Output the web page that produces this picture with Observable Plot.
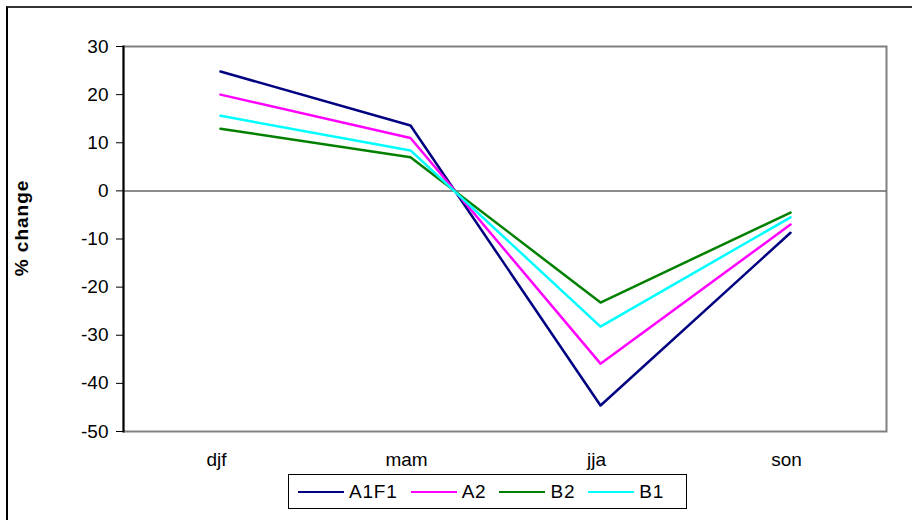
<!DOCTYPE html>
<html>
<head>
<meta charset="utf-8">
<script src="https://cdn.jsdelivr.net/npm/d3@7"></script>
<script src="https://cdn.jsdelivr.net/npm/@observablehq/plot@0.6"></script>
<style>
  html, body { margin: 0; padding: 0; background: #fff; }
  body { width: 912px; height: 520px; position: relative; overflow: hidden; font-family: Arial, "Liberation Sans", sans-serif; }
  #frame { position: absolute; left: 6px; top: 6px; width: 1000px; height: 1000px; border-left: 2px solid #000; border-top: 2px solid #333; }
  #chart { position: absolute; left: 0; top: 0; }
  #chart text { font-size: 19px; }
  #ylabel { position: absolute; left: 22px; top: 228px; transform: translate(-50%, -50%) rotate(-90deg); font-weight: bold; font-size: 19px; letter-spacing: 1px; white-space: nowrap; }
  #legend { position: absolute; left: 288px; top: 474px; width: 399px; height: 35px; border: 1px solid #000; box-sizing: border-box; display: flex; align-items: center; padding-left: 9px; font-size: 19px; letter-spacing: 0.8px; }
  .item { display: flex; align-items: center; margin-right: 13px; }
  .sw { width: 46px; height: 0; border-top: 2.5px solid; margin-right: 5px; }
</style>
</head>
<body>
<div id="frame"></div>
<div id="chart"></div>
<div id="ylabel">% change</div>
<div id="legend"></div>
<script>
const seasons = ["djf", "mam", "jja", "son"];
const seriesNames = ["A1F1", "A2", "B2", "B1"];
const seriesColors = ["#000080", "#FF00FF", "#008000", "#00FFFF"];
const a1f1 = [24.8, 13.6, -44.6, -8.7];
const a2 = [20.0, 11.0, -35.9, -7.0];
const b2 = [12.9, 7.0, -23.2, -4.5];
const b1 = [15.6, 8.4, -28.2, -5.5];
const yTicks = [30, 20, 10, 0, -10, -20, -30, -40, -50];

const seriesValues = [a1f1, a2, b2, b1];
const data = [];
seriesNames.forEach((name, i) => {
  seasons.forEach((s, j) => data.push({series: name, season: s, value: seriesValues[i][j]}));
});

const plot = Plot.plot({
  width: 912,
  height: 520,
  marginLeft: 123,
  marginRight: 26,
  marginTop: 46,
  marginBottom: 89,
  style: {background: "transparent", fontFamily: "Arial, 'Liberation Sans', sans-serif", fontSize: "19px", color: "#000"},
  x: {type: "point", domain: seasons, padding: 0.5, label: null},
  y: {domain: [-50, 30], label: null},
  color: {domain: seriesNames, range: seriesColors},
  marks: [
    Plot.frame({stroke: "#808080", strokeWidth: 2}),
    Plot.ruleY([0], {stroke: "#666", strokeWidth: 1.5}),
    Plot.frame({anchor: "left", stroke: "#000", strokeWidth: 2}),
    Plot.axisY({ticks: yTicks, tickSize: 7, tickPadding: 8, tickFormat: d => String(d), label: null, stroke: "#000"}),
    Plot.axisX({tickSize: 0, tickPadding: 21, dx: -4, label: null}),
    Plot.line(data, {x: "season", y: "value", z: "series", stroke: "series", strokeWidth: 2.5})
  ]
});
document.getElementById("chart").appendChild(plot);

const legend = document.getElementById("legend");
seriesNames.forEach((name, i) => {
  const item = document.createElement("div");
  item.className = "item";
  const sw = document.createElement("span");
  sw.className = "sw";
  sw.style.borderTopColor = seriesColors[i];
  item.appendChild(sw);
  const t = document.createElement("span");
  t.textContent = name;
  item.appendChild(t);
  legend.appendChild(item);
});
</script>
</body>
</html>
